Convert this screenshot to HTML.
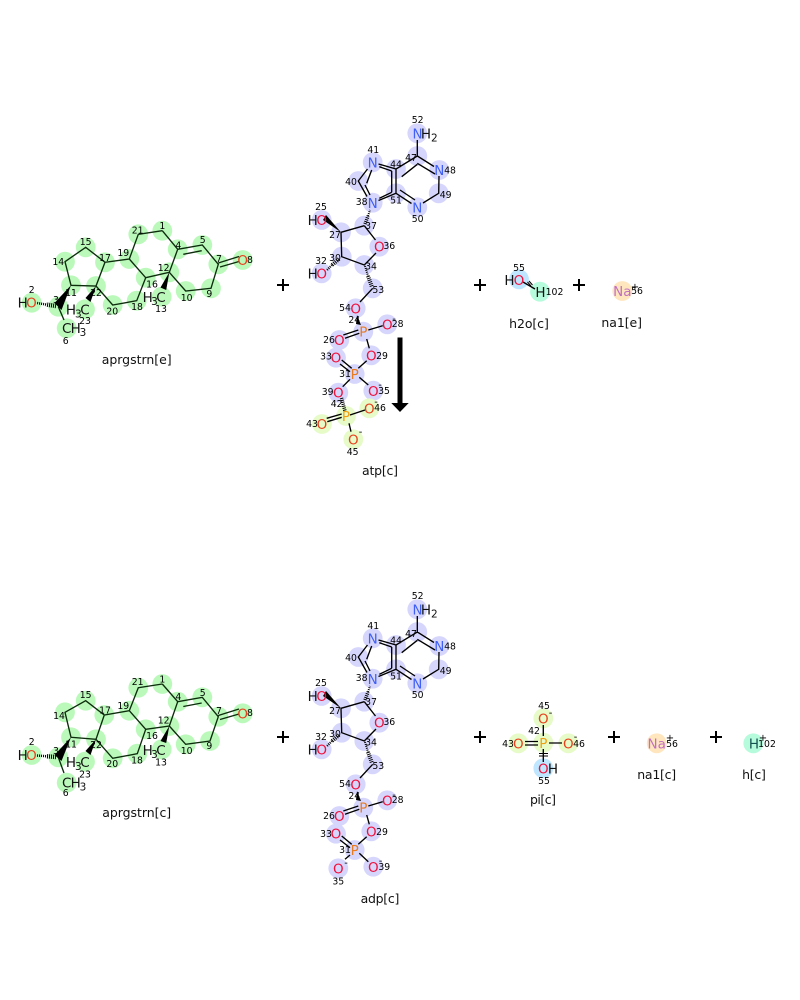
<!DOCTYPE html>
<html><head><meta charset="utf-8"><style>
html,body{margin:0;padding:0;background:#fff}
svg{display:block}
text{font-family:"DejaVu Sans",sans-serif;text-anchor:middle}
circle{r:9.9px}
.e{font-size:13.5px}
.n{font-size:9.3px;fill:#000}
.s{font-size:10.5px}
.l{font-size:12.5px;fill:#111}
.c{font-size:10px;fill:#000}
.b{fill:none;stroke:#000;stroke-width:1.35}
.bg{fill:none;stroke:#0c2c0c;stroke-width:1.35}
.h{fill:none;stroke:#000;stroke-dasharray:1 1}
.R{fill:#f0103a}.O{fill:#e8401c}.N{fill:#3f5ff5}.P{fill:#e87a20}.Y{fill:#f0a010}.D{fill:#111}.M{fill:#c070c0}
.g circle{fill:#bbf9bb}.v circle{fill:#d6d6fc}.y circle{fill:#e6fbc8}
</style></head><body>
<svg width="800" height="1000" viewBox="0 0 800 1000" xmlns="http://www.w3.org/2000/svg">
<!-- top steroid highlights -->
<g class="g">
<circle cx="162.3" cy="230.7" r="9.7"/><circle cx="138.3" cy="234.3" r="9.7"/><circle cx="129.3" cy="259" r="9.7"/><circle cx="105" cy="262.3" r="9.7"/><circle cx="85.7" cy="247.3" r="9.7"/><circle cx="65" cy="261.7" r="9.7"/><circle cx="71" cy="285.3" r="9.7"/><circle cx="96" cy="286" r="9.7"/><circle cx="112.7" cy="305" r="9.7"/><circle cx="136.7" cy="300.7" r="9.7"/><circle cx="145.7" cy="277.7" r="9.7"/><circle cx="169.3" cy="272.3" r="9.7"/><circle cx="177.7" cy="249.3" r="9.7"/><circle cx="202.3" cy="245" r="9.7"/><circle cx="218.3" cy="264.3" r="9.7"/><circle cx="211" cy="288.3" r="9.7"/><circle cx="185.7" cy="291" r="9.7"/><circle cx="242.7" cy="260" r="9.7"/><circle cx="161.7" cy="296.7" r="9.7"/><circle cx="85" cy="309.3" r="9.7"/><circle cx="58.3" cy="306.7" r="9.7"/><circle cx="31.7" cy="302.7" r="9.7"/><circle cx="66.7" cy="328.3" r="9.7"/>
</g>
<path class="bg" d="M162.3 230.7L138.3 234.3L129.3 259L105 262.3L85.7 247.3L65 261.7L71 285.3L96 286L105 262.3M96 286L112.7 305L136.7 300.7L145.7 277.7L129.3 259M145.7 277.7L169.3 272.3L177.7 249.3L162.3 230.7M177.7 249.3L202.3 245L218.3 264.3L211 288.3L185.7 291L169.3 272.3M183.3 254.3L201.7 250.7M218.3 263L239 256.5M220 267L239 261.5M58.3 306.7L64 320"/>
<polygon points="169.3,272.3 166.2,290 160.5,287.5" fill="#000"/>
<polygon points="96,286 90.5,302 85.5,298" fill="#000"/>
<polygon points="71,285.3 61.5,310 54.5,303" fill="#000"/>
<line class="h" x1="56" y1="306" x2="46" y2="304.5" stroke-width="4.5"/><line class="h" x1="46" y1="304.5" x2="37" y2="303" stroke-width="2.5"/>
<g>
<text class="e D" x="22.7" y="307.5">H</text><text class="e O" x="31.5" y="307.5">O</text>
<text class="e D" x="66.7" y="333">C</text><text class="e D" x="75.7" y="333">H</text><text class="s D" x="83" y="336">3</text>
<text class="e D" x="71" y="314.5">H</text><text class="s D" x="78.3" y="317.5">3</text><text class="e D" x="85" y="314.5">C</text>
<text class="e D" x="147.7" y="302">H</text><text class="s D" x="154.5" y="305">3</text><text class="e D" x="161" y="302">C</text>
<text class="e O" x="242.7" y="265">O</text>
<text class="n" x="162.3" y="229">1</text><text class="n" x="137.7" y="233.5">21</text><text class="n" x="202.7" y="242.8">5</text><text class="n" x="178.3" y="248.5">4</text><text class="n" x="219" y="262">7</text><text class="n" x="250" y="263">8</text><text class="n" x="163.7" y="271">12</text><text class="n" x="152" y="287.5">16</text><text class="n" x="123.3" y="256">19</text><text class="n" x="105" y="261">17</text><text class="n" x="85.7" y="245">15</text><text class="n" x="58.3" y="265">14</text><text class="n" x="71" y="296">11</text><text class="n" x="96" y="296">22</text><text class="n" x="112.3" y="314.5">20</text><text class="n" x="137" y="310">18</text><text class="n" x="186.7" y="301">10</text><text class="n" x="209.3" y="297">9</text><text class="n" x="161" y="312">13</text><text class="n" x="85" y="324">23</text><text class="n" x="65.7" y="344">6</text><text class="n" x="31.7" y="293">2</text><text class="n" x="56" y="303">3</text>
</g>
<text class="l" x="136.7" y="364" textLength="70">aprgstrn[e]</text>

<!-- bottom steroid -->
<g class="g">
<circle cx="162.3" cy="684" r="9.7"/><circle cx="138.3" cy="687.7" r="9.7"/><circle cx="129.3" cy="710.7" r="9.7"/><circle cx="104.3" cy="715" r="9.7"/><circle cx="85.7" cy="700.7" r="9.7"/><circle cx="65" cy="712.3" r="9.7"/><circle cx="71" cy="737.3" r="9.7"/><circle cx="96" cy="739.3" r="9.7"/><circle cx="112.7" cy="758.3" r="9.7"/><circle cx="137.3" cy="753.7" r="9.7"/><circle cx="145.7" cy="729.3" r="9.7"/><circle cx="169.3" cy="726" r="9.7"/><circle cx="177.7" cy="701.7" r="9.7"/><circle cx="202.3" cy="697.3" r="9.7"/><circle cx="218.3" cy="716.7" r="9.7"/><circle cx="210" cy="741" r="9.7"/><circle cx="185.7" cy="744.3" r="9.7"/><circle cx="242.7" cy="713.3" r="9.7"/><circle cx="161.7" cy="749.3" r="9.7"/><circle cx="85" cy="761.7" r="9.7"/><circle cx="58.3" cy="757.3" r="9.7"/><circle cx="31.7" cy="755" r="9.7"/><circle cx="66.7" cy="782.7" r="9.7"/>
</g>
<path class="bg" d="M162.3 684L138.3 687.7L129.3 710.7L104.3 715L85.7 700.7L65 712.3L71 737.3L96 739.3L104.3 715M96 739.3L112.7 758.3L137.3 753.7L145.7 729.3L129.3 710.7M145.7 729.3L169.3 726L177.7 701.7L162.3 684M177.7 701.7L202.3 697.3L218.3 716.7L210 741L185.7 744.3L169.3 726M183.3 706.5L201.7 703M218.3 715.5L239 709M220 719.5L239 714M58.3 757.3L64 773"/>
<polygon points="169.3,726 166.2,743 160.5,741" fill="#000"/>
<polygon points="96,739.3 90.5,755 85.5,751" fill="#000"/>
<polygon points="71,737.3 61.5,761 54.5,755" fill="#000"/>
<line class="h" x1="56" y1="757" x2="46" y2="756.2" stroke-width="4.5"/><line class="h" x1="46" y1="756.2" x2="37" y2="755.5" stroke-width="2.5"/>
<g>
<text class="e D" x="22.7" y="760">H</text><text class="e O" x="31.5" y="760">O</text>
<text class="e D" x="66.7" y="787.5">C</text><text class="e D" x="75.7" y="787.5">H</text><text class="s D" x="83" y="790.5">3</text>
<text class="e D" x="71" y="767">H</text><text class="s D" x="78.3" y="770">3</text><text class="e D" x="85" y="767">C</text>
<text class="e D" x="147.7" y="755">H</text><text class="s D" x="154.5" y="758">3</text><text class="e D" x="161" y="755">C</text>
<text class="e O" x="242.7" y="718.5">O</text>
<text class="n" x="162.3" y="682.5">1</text><text class="n" x="137.7" y="685">21</text><text class="n" x="202.7" y="696">5</text><text class="n" x="178.3" y="700">4</text><text class="n" x="219" y="714">7</text><text class="n" x="250" y="716">8</text><text class="n" x="163.7" y="723.5">12</text><text class="n" x="152" y="739">16</text><text class="n" x="123.3" y="709">19</text><text class="n" x="105" y="713.5">17</text><text class="n" x="85.7" y="698">15</text><text class="n" x="59" y="719">14</text><text class="n" x="71" y="747.5">11</text><text class="n" x="96" y="748">22</text><text class="n" x="112.3" y="767">20</text><text class="n" x="137" y="763.5">18</text><text class="n" x="186.7" y="754">10</text><text class="n" x="209.3" y="749">9</text><text class="n" x="161" y="765.5">13</text><text class="n" x="85" y="777.5">23</text><text class="n" x="65.7" y="796">6</text><text class="n" x="31.7" y="745">2</text><text class="n" x="56" y="754">3</text>
</g>
<text class="l" x="136.7" y="817" textLength="69">aprgstrn[c]</text>

<!-- ATP -->
<g class="v">
<circle cx="417.3" cy="133.3" r="9.7"/><circle cx="417.3" cy="156" r="9.7"/><circle cx="439.3" cy="170" r="9.7"/><circle cx="438.7" cy="193.3" r="9.7"/><circle cx="417.3" cy="207.3" r="9.7"/><circle cx="396" cy="193.3" r="9.7"/><circle cx="396" cy="169" r="9.7"/><circle cx="372.7" cy="162.3" r="9.7"/><circle cx="358.3" cy="181" r="9.7"/><circle cx="372.7" cy="202.7" r="9.7"/><circle cx="364.3" cy="225.7" r="9.7"/><circle cx="379.3" cy="246.7" r="9.7"/><circle cx="364.3" cy="265" r="9.7"/><circle cx="341.7" cy="256.7" r="9.7"/><circle cx="341" cy="232.3" r="9.7"/><circle cx="321.7" cy="220" r="9.7"/><circle cx="321.7" cy="273.3" r="9.7"/><circle cx="372.7" cy="288.3" r="9.7"/><circle cx="355.7" cy="308.3" r="9.7"/><circle cx="363.3" cy="331.7" r="9.7"/><circle cx="387.3" cy="324.3" r="9.7"/><circle cx="339.3" cy="340" r="9.7"/><circle cx="371.3" cy="355.3" r="9.7"/><circle cx="354.7" cy="374" r="9.7"/><circle cx="336" cy="357.7" r="9.7"/><circle cx="338.3" cy="392.7" r="9.7"/><circle cx="373.3" cy="390.7" r="9.7"/>
</g>
<g class="y"><circle cx="346" cy="416" r="9.7"/><circle cx="369.3" cy="408.3" r="9.7"/><circle cx="322" cy="424" r="9.7"/><circle cx="353.3" cy="439.3" r="9.7"/></g>
<path class="b" d="M417.3 140L417.3 156L434 166.5M439 176L438.7 193.3L423 203M411.5 203.5L396 193.3L396 169L417.3 156M396 169L378.5 164M367.5 169L358.3 181L367 196.5M378.5 200.5L396 193.3M401.7 176.7L417.3 164.3M417.3 163.3L435 174M400 190L415 200M391.7 171L391.7 192.3M379.3 166.7L391.7 171M379.3 198.3L391.7 192.3M366.7 183.3L371.7 170M365 185L370 195M364.3 225.7L375.5 240M376 253L364.3 265L341.7 256.7L341 232.3L364.3 225.7M372.7 288.3L360 302M343.3 335L358.3 330M345 338.3L359.3 333.3M368.3 330L382.7 325.7M366.7 339L369.3 348.3M366.7 360.7L358.3 368.3M341.7 360L351.7 368.3M340 364L350 371.7M359.3 377.3L368.3 385M350 379.3L342.7 386.7M326.7 418.3L341.7 414M327.3 421.7L341.7 417.3M350 415L365 410M349 423.3L351 431.7"/>
<polygon points="341,232.3 326,215 323,220" fill="#000"/>
<line class="h" x1="339" y1="259" x2="332" y2="265" stroke-width="4"/><line class="h" x1="332" y1="265" x2="327" y2="270" stroke-width="2.2"/>
<line class="h" x1="365" y1="224" x2="368" y2="216" stroke-width="3.5"/><line class="h" x1="368" y1="216" x2="370" y2="210" stroke-width="2"/>
<line class="h" x1="365" y1="266" x2="368" y2="276" stroke-width="2"/><line class="h" x1="368" y1="276" x2="372" y2="287" stroke-width="4"/>
<polygon points="357,315 361,325 356,324" fill="#000"/>
<line class="h" x1="341.5" y1="398" x2="345" y2="411" stroke-width="3.5"/>
<g>
<text class="e N" x="417.5" y="138.5">N</text><text class="e D" x="426" y="138.5">H</text><text class="s D" x="434.3" y="141.5">2</text>
<text class="e N" x="372.7" y="167.5">N</text><text class="e N" x="439.3" y="175">N</text><text class="e N" x="417.3" y="212.5">N</text><text class="e N" x="372.7" y="208">N</text>
<text class="e D" x="312.7" y="225">H</text><text class="e R" x="321.7" y="225">O</text>
<text class="e D" x="312.7" y="278.5">H</text><text class="e R" x="321.7" y="278.5">O</text>
<text class="e R" x="379.3" y="251.5">O</text>
<text class="e R" x="355.7" y="313.5">O</text><text class="e P" x="363.3" y="336.5">P</text><text class="e R" x="387.3" y="329.5">O</text><text class="e R" x="339.3" y="345">O</text><text class="e R" x="371.3" y="360.5">O</text><text class="e P" x="354.7" y="379">P</text><text class="e R" x="336" y="362.5">O</text><text class="e R" x="338.3" y="397.5">O</text><text class="e R" x="373.3" y="396">O</text>
<text class="e Y" x="346" y="421">P</text><text class="e O" x="369.3" y="413.5">O</text><text class="e O" x="322" y="429">O</text><text class="e O" x="353.3" y="444.5">O</text>
<text class="c" x="394" y="322">-</text><text class="c" x="380" y="388">-</text><text class="c" x="376" y="405">-</text><text class="c" x="360.5" y="435">-</text>
<text class="n" x="417.7" y="123">52</text><text class="n" x="373.3" y="153">41</text><text class="n" x="396" y="167.5">44</text><text class="n" x="411" y="161">47</text><text class="n" x="450" y="173.5">48</text><text class="n" x="351" y="185">40</text><text class="n" x="445.7" y="198">49</text><text class="n" x="396" y="203.5">51</text><text class="n" x="361.7" y="205">38</text><text class="n" x="417.7" y="222">50</text><text class="n" x="321" y="210">25</text><text class="n" x="371" y="229">37</text><text class="n" x="335" y="238">27</text><text class="n" x="389.3" y="249">36</text><text class="n" x="321" y="264">32</text><text class="n" x="335" y="261">30</text><text class="n" x="371" y="269.5">34</text><text class="n" x="378.3" y="293">53</text>
<text class="n" x="345" y="311">54</text><text class="n" x="354.3" y="323">24</text><text class="n" x="397.7" y="327">28</text><text class="n" x="329" y="343">26</text><text class="n" x="326" y="359.5">33</text><text class="n" x="382" y="359">29</text><text class="n" x="345" y="377">31</text><text class="n" x="327.7" y="395">39</text><text class="n" x="384" y="394">35</text><text class="n" x="336.7" y="407">42</text><text class="n" x="380" y="411">46</text><text class="n" x="312" y="427">43</text><text class="n" x="352.7" y="455">45</text>
</g>
<text class="l" x="380" y="475" textLength="36">atp[c]</text>

<!-- ADP -->
<g class="v">
<circle cx="417.3" cy="609.3" r="9.7"/><circle cx="417.3" cy="632" r="9.7"/><circle cx="439.3" cy="646" r="9.7"/><circle cx="438.7" cy="669.3" r="9.7"/><circle cx="417.3" cy="683.3" r="9.7"/><circle cx="396" cy="669.3" r="9.7"/><circle cx="396" cy="645" r="9.7"/><circle cx="372.7" cy="638.3" r="9.7"/><circle cx="358.3" cy="657" r="9.7"/><circle cx="372.7" cy="678.7" r="9.7"/><circle cx="364.3" cy="701.7" r="9.7"/><circle cx="379.3" cy="722.7" r="9.7"/><circle cx="364.3" cy="741" r="9.7"/><circle cx="341.7" cy="732.7" r="9.7"/><circle cx="341" cy="708.3" r="9.7"/><circle cx="321.7" cy="696" r="9.7"/><circle cx="321.7" cy="749.3" r="9.7"/><circle cx="372.7" cy="764.3" r="9.7"/><circle cx="355.7" cy="784.3" r="9.7"/><circle cx="363.3" cy="807.7" r="9.7"/><circle cx="387.3" cy="800.3" r="9.7"/><circle cx="339.3" cy="816" r="9.7"/><circle cx="371.3" cy="831.3" r="9.7"/><circle cx="354.7" cy="850" r="9.7"/><circle cx="336" cy="833.7" r="9.7"/><circle cx="338.3" cy="868.3" r="9.7"/><circle cx="373.3" cy="866.7" r="9.7"/>
</g>
<path class="b" d="M417.3 616L417.3 632L434 642.5M439 652L438.7 669.3L423 679M411.5 679.5L396 669.3L396 645L417.3 632M396 645L378.5 640M367.5 645L358.3 657L367 672.5M378.5 676.5L396 669.3M401.7 652.7L417.3 640.3M417.3 639.3L435 650M400 666L415 676M391.7 647L391.7 668.3M379.3 642.7L391.7 647M379.3 674.3L391.7 668.3M366.7 659.3L371.7 646M365 661L370 671M364.3 701.7L375.5 716M376 729L364.3 741L341.7 732.7L341 708.3L364.3 701.7M372.7 764.3L360 778M343.3 811L358.3 806M345 814.3L359.3 809.3M368.3 806L382.7 801.7M366.7 815L369.3 824.3M366.7 836.7L358.3 844.3M341.7 836L351.7 844.3M340 840L350 847.7M359.3 853.3L368.3 861.7M350 855L345 859.3"/>
<polygon points="341,708.3 326,691 323,696" fill="#000"/>
<line class="h" x1="339" y1="735" x2="332" y2="741" stroke-width="4"/><line class="h" x1="332" y1="741" x2="327" y2="746" stroke-width="2.2"/>
<line class="h" x1="365" y1="700" x2="368" y2="692" stroke-width="3.5"/><line class="h" x1="368" y1="692" x2="370" y2="686" stroke-width="2"/>
<line class="h" x1="365" y1="742" x2="368" y2="752" stroke-width="2"/><line class="h" x1="368" y1="752" x2="372" y2="763" stroke-width="4"/>
<polygon points="357,791 361,801 356,800" fill="#000"/>
<g>
<text class="e N" x="417.5" y="614.5">N</text><text class="e D" x="426" y="614.5">H</text><text class="s D" x="434.3" y="617.5">2</text>
<text class="e N" x="372.7" y="643.5">N</text><text class="e N" x="439.3" y="651">N</text><text class="e N" x="417.3" y="688.5">N</text><text class="e N" x="372.7" y="684">N</text>
<text class="e D" x="312.7" y="701">H</text><text class="e R" x="321.7" y="701">O</text>
<text class="e D" x="312.7" y="754.5">H</text><text class="e R" x="321.7" y="754.5">O</text>
<text class="e R" x="379.3" y="727.5">O</text>
<text class="e R" x="355.7" y="789.5">O</text><text class="e P" x="363.3" y="812.5">P</text><text class="e R" x="387.3" y="805.5">O</text><text class="e R" x="339.3" y="821">O</text><text class="e R" x="371.3" y="836.5">O</text><text class="e P" x="354.7" y="855">P</text><text class="e R" x="336" y="838.5">O</text><text class="e R" x="338.3" y="873.5">O</text><text class="e R" x="373.3" y="872">O</text>
<text class="c" x="394" y="798">-</text><text class="c" x="346" y="866">-</text><text class="c" x="380.5" y="864">-</text>
<text class="n" x="417.7" y="599">52</text><text class="n" x="373.3" y="629">41</text><text class="n" x="396" y="643.5">44</text><text class="n" x="411" y="637">47</text><text class="n" x="450" y="649.5">48</text><text class="n" x="351" y="661">40</text><text class="n" x="445.7" y="674">49</text><text class="n" x="396" y="679.5">51</text><text class="n" x="361.7" y="681">38</text><text class="n" x="417.7" y="698">50</text><text class="n" x="321" y="686">25</text><text class="n" x="371" y="705">37</text><text class="n" x="335" y="714">27</text><text class="n" x="389.3" y="725">36</text><text class="n" x="321" y="740">32</text><text class="n" x="335" y="737">30</text><text class="n" x="371" y="745.5">34</text><text class="n" x="378.3" y="769">53</text>
<text class="n" x="345" y="787">54</text><text class="n" x="354.3" y="799">24</text><text class="n" x="397.7" y="803">28</text><text class="n" x="329" y="819">26</text><text class="n" x="326" y="837">33</text><text class="n" x="382" y="835">29</text><text class="n" x="345" y="853">31</text><text class="n" x="384.3" y="870">39</text><text class="n" x="338.3" y="884.5">35</text>
</g>
<text class="l" x="380" y="903" textLength="38.7">adp[c]</text>

<!-- water, Na -->
<circle cx="519" cy="279.3" r="9.7" fill="#bfe6ff"/><circle cx="540" cy="291.7" r="9.7" fill="#b5fbdc"/>
<path class="b" d="M523 282L535 289"/><path d="M527.5 282L531 286M529 281L532.5 285" stroke="#000" stroke-width="1" fill="none"/>
<text class="e D" x="509.5" y="285">H</text><text class="e R" x="519" y="285">O</text><text class="n" x="519" y="271">55</text>
<text class="e D" x="540.5" y="297">H</text><text class="n" x="554.5" y="295">102</text>
<text class="l" x="529" y="328" textLength="39.7">h2o[c]</text>
<circle cx="622.3" cy="291" r="9.7" fill="#ffe6bf"/>
<text class="e M" x="622.3" y="296">Na</text><text class="c" x="635" y="290">+</text><text class="n" x="637" y="294">56</text>
<text class="l" x="621.7" y="327" textLength="40.7">na1[e]</text>

<!-- Pi, Na, H bottom -->
<circle cx="543.3" cy="742.7" r="9.7" fill="#e6fbc8"/><circle cx="543.3" cy="718.3" r="9.7" fill="#e6fbc8"/><circle cx="518.3" cy="743.3" r="9.7" fill="#e6fbc8"/><circle cx="568.3" cy="743.3" r="9.7" fill="#e6fbc8"/><circle cx="543.3" cy="768.3" r="9.7" fill="#bfe6ff"/>
<path class="b" d="M543.3 725L543.3 736M525 741.5L538 741.5M525 745L538 745M549 743L562 743M543.3 749L543.3 762"/><path d="M539 753.5H548M539 756H548" stroke="#000" stroke-width="1" fill="none"/>
<text class="e Y" x="543.3" y="748">P</text><text class="e O" x="543.3" y="723.5">O</text><text class="e O" x="518.3" y="748.5">O</text><text class="e O" x="568.3" y="748.5">O</text>
<text class="e R" x="543.3" y="773.5">O</text><text class="e D" x="553" y="773.5">H</text>
<text class="n" x="544" y="709">45</text><text class="c" x="550.5" y="716">-</text><text class="n" x="534" y="734">42</text><text class="n" x="508" y="747">43</text><text class="n" x="579" y="747">46</text><text class="c" x="575.5" y="740">-</text><text class="n" x="544" y="784">55</text>
<text class="l" x="543" y="804" textLength="26">pi[c]</text>
<circle cx="656.7" cy="743.3" r="9.7" fill="#ffe6bf"/>
<text class="e M" x="656.7" y="748.5">Na</text><text class="c" x="670" y="741">+</text><text class="n" x="672" y="747">56</text>
<text class="l" x="656.7" y="779" textLength="39">na1[c]</text>
<circle cx="753.3" cy="743.3" r="9.7" fill="#b5fbdc"/>
<text class="e" fill="#145050" x="754" y="748.5">H</text><text class="c" x="763" y="741">+</text><text class="n" x="767" y="747">102</text>
<text class="l" x="754" y="779" textLength="23.7">h[c]</text>

<!-- plus signs -->
<path d="M277 285H289M283 279V291M474 285H486M480 279V291M573 285H585M579 279V291M277 737H289M283 731V743M474 737H486M480 731V743M608 737H620M614 731V743M710 737H722M716 731V743" stroke="#000" stroke-width="2" fill="none"/>
<!-- arrow -->
<path d="M397.5 337.5H402.5V403H408.7L400 412L391.3 403H397.5Z" fill="#000"/>
</svg>
</body></html>
